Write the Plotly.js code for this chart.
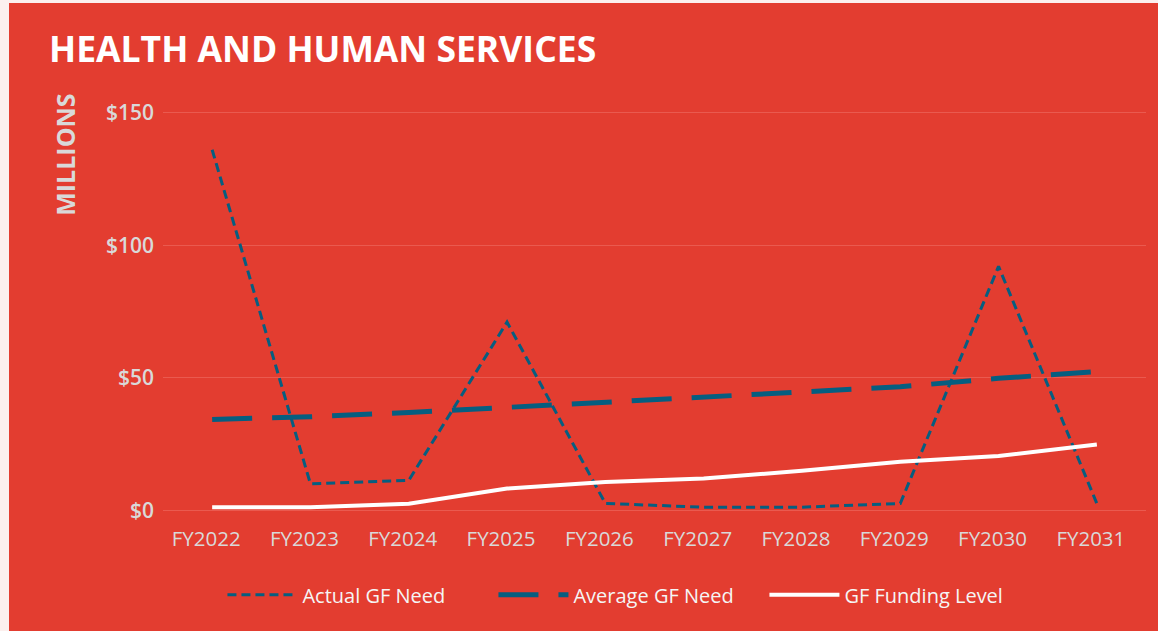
<!DOCTYPE html>
<html>
<head>
<meta charset="utf-8">
<script src="https://cdn.plot.ly/plotly-3.0.1.min.js"></script>
<style>
  html, body { margin: 0; padding: 0; background: #fcf0ee; width: 1158px; height: 631px; overflow: hidden; }
  #chart { position: absolute; left: 9px; top: 3px; width: 1149px; height: 628px; }
</style>
</head>
<body>
<div id="chart"></div>
<script>
const categories = ["FY2022","FY2023","FY2024","FY2025","FY2026","FY2027","FY2028","FY2029","FY2030","FY2031"];
const actualNeed = [136, 10, 11.3, 71, 2.6, 1.2, 1.2, 2.6, 92, 2.6];
const averageNeed = [34.3, 35.3, 36.9, 38.8, 40.8, 42.8, 44.6, 46.6, 49.8, 52.3];
const fundingLevel = [1.2, 1.2, 2.5, 8.2, 10.7, 12, 14.9, 18.3, 20.5, 24.8];
const yTickVals = [0, 50, 100, 150];
const yTickText = ["$0", "$50", "$100", "$150"];

const teal = "#065e80";
const red = "#e33d30";

const traces = [
  { x: categories, y: actualNeed, name: "Actual GF Need", type: "scatter", mode: "lines",
    line: { color: teal, width: 3, dash: "9px,5px" } },
  { x: categories, y: averageNeed, name: "Average GF Need", type: "scatter", mode: "lines",
    line: { color: teal, width: 5, dash: "40px,20px" } },
  { x: categories, y: fundingLevel, name: "GF Funding Level", type: "scatter", mode: "lines",
    line: { color: "#ffffff", width: 4 } }
];

const layout = {
  width: 1149, height: 628,
  paper_bgcolor: red, plot_bgcolor: red,
  margin: { l: 154, r: 12, t: 107, b: 118, autoexpand: false },
  font: { family: "Open Sans, sans-serif", color: "#d9d9d9" },
  title: { text: "HEALTH AND HUMAN SERVICES", x: 0, xref: "container", xanchor: "left",
           y: 1, yref: "container", yanchor: "top", pad: { t: 34, l: 40 },
           font: { family: "Open Sans, sans-serif", size: 35.5, color: "#ffffff", weight: 700 } },
  xaxis: { type: "category", range: [-0.5, 9.5], showgrid: false, zeroline: false, showline: false,
           ticks: "", tickfont: { size: 20.5, color: "#d9d9d9" }, ticklabelshift: -6, ticklabelstandoff: 11, fixedrange: true },
  yaxis: { range: [-1, 151], tickvals: yTickVals, ticktext: yTickText, showgrid: true,
           gridcolor: "#ea5a4f", gridwidth: 1, zeroline: false, showline: false, ticks: "",
           tickfont: { size: 21, color: "#d9d9d9", weight: 600 }, ticklabelstandoff: 8, fixedrange: true },
  showlegend: true,
  legend: { orientation: "h", x: 0.474, xanchor: "center", y: -0.203, yanchor: "middle", yref: "paper",
            font: { size: 20, color: "#f5f5f5", family: "Open Sans, sans-serif" },
            itemwidth: 70, entrywidth: 186, bgcolor: "rgba(0,0,0,0)", traceorder: "normal" },
  annotations: [
    { text: "<b>MILLIONS</b>", textangle: -90, xref: "paper", yref: "paper",
      x: -0.0997, y: 0.889, xanchor: "center", yanchor: "middle", showarrow: false,
      font: { size: 25, color: "#d9d9d9", family: "Open Sans, sans-serif" } }
  ]
};

Plotly.newPlot("chart", traces, layout, { displayModeBar: false, staticPlot: true });
</script>
</body>
</html>
